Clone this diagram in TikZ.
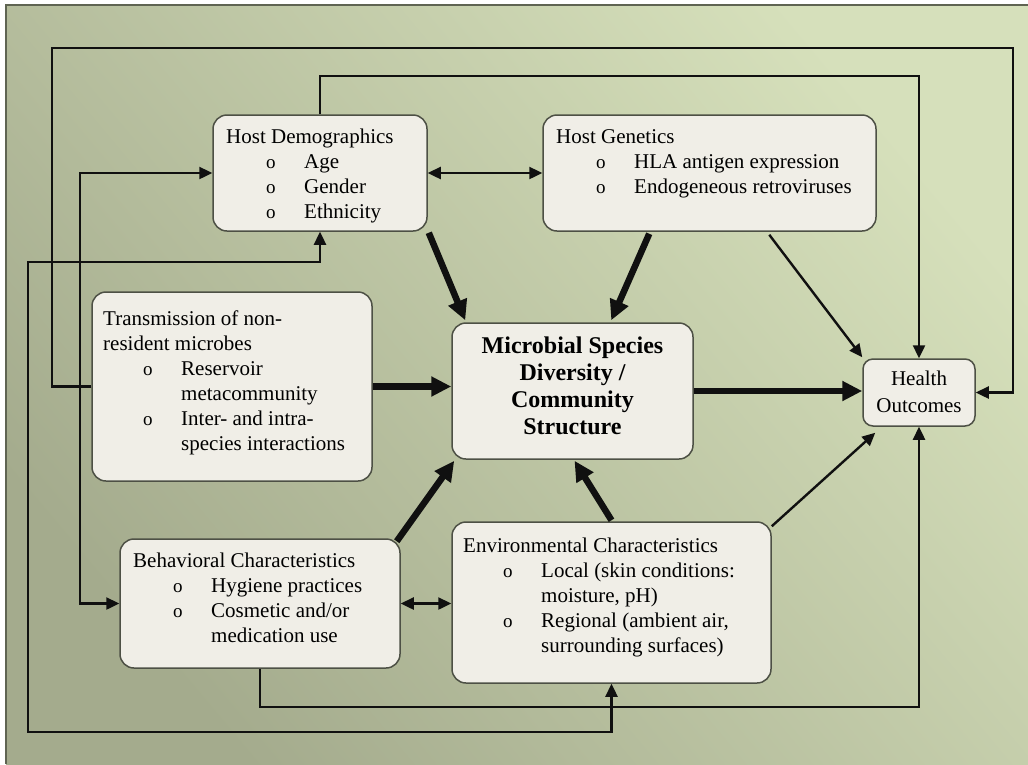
\documentclass[tikz,border=0pt]{standalone}
\usepackage{fontspec}
\setmainfont{Liberation Serif}
\usetikzlibrary{arrows.meta,calc}
\definecolor{boxfill}{HTML}{F0EEE7}
\definecolor{boxline}{HTML}{4D5045}
\definecolor{bgdark}{HTML}{A4AB8D}
\definecolor{bglight}{HTML}{D6E0BB}
\definecolor{framecol}{HTML}{5F6452}
\definecolor{linecol}{HTML}{101010}
\newcommand\itm[1]{\hspace*{40pt}\makebox[38pt][l]{\fontsize{19}{25}\selectfont o}#1}
\newcommand\cnt[1]{\hspace*{78pt}#1}
\begin{document}
\begin{tikzpicture}[x=1pt,y=-1pt,
  box/.style={draw=boxline, line width=1.5pt, fill=boxfill, rounded corners=14pt, inner sep=0pt},
  txt/.style={inner sep=0pt, anchor=base west, font=\fontsize{21}{25}\selectfont},
  ln/.style={draw=linecol, line width=2.4pt},
  ar/.style={ln, -{Triangle[length=13pt,width=12pt]}},
  dar/.style={ln, {Triangle[length=13pt,width=12pt]}-{Triangle[length=13pt,width=12pt]}},
  bigar/.style={draw=linecol, line width=6.5pt, -{Triangle[length=20pt,width=19pt]}}]

\useasboundingbox (0,0) rectangle (1028,764);
\fill[white] (0,0) rectangle (1028,764);
\shade[bottom color=bgdark, top color=bglight, shading angle=-50] (6,5) rectangle (1028,764);
\draw[framecol, line width=1.5pt] (6,764) -- (6,5) -- (1028,5);

% boxes
\node[box, minimum width=214pt, minimum height=116pt] (HD) at (320,173) {};
\node[box, minimum width=333pt, minimum height=116pt] (HG) at (709.5,173) {};
\node[box, minimum width=280pt, minimum height=189pt] (TR) at (232,386.5) {};
\node[box, minimum width=241pt, minimum height=136pt] (MC) at (572.5,391) {};
\node[box, minimum width=112pt, minimum height=67pt, rounded corners=10pt] (HO) at (919,392.5) {};
\node[box, minimum width=280pt, minimum height=129pt] (BC) at (260,603.5) {};
\node[box, minimum width=319pt, minimum height=161pt] (EC) at (611.5,602.5) {};

% texts
\node[txt] (HDt) at (226,143) {\parbox[t]{200pt}{Host Demographics\\\itm{Age}\\\itm{Gender}\\\itm{Ethnicity}}};
\node[txt] (HGt) at (556,143) {\parbox[t]{320pt}{Host Genetics\\\itm{HLA antigen expression}\\\itm{Endogeneous retroviruses}}};
\node[txt] (TRt) at (103,325) {\parbox[t]{270pt}{Transmission of non-\\resident microbes\\\itm{Reservoir}\\\cnt{metacommunity}\\\itm{Inter- and intra-}\\\cnt{species interactions}}};
\node[txt] (BCt) at (133,567) {\parbox[t]{270pt}{Behavioral Characteristics\\\itm{Hygiene practices}\\\itm{Cosmetic and/or}\\\cnt{medication use}}};
\node[txt] (ECt) at (463,552) {\parbox[t]{310pt}{Environmental Characteristics\\\itm{Local (skin conditions:}\\\cnt{moisture, pH)}\\\itm{Regional (ambient air,}\\\cnt{surrounding surfaces)}}};
\node[inner sep=0pt, anchor=base, font=\bfseries\fontsize{24}{27}\selectfont] (MCt) at (572.5,353) {\parbox[t]{236pt}{\centering Microbial Species\\Diversity /\\Community\\Structure}};
\node[inner sep=0pt, anchor=base, font=\fontsize{21}{27}\selectfont] (HOt) at (919,385.5) {\parbox[t]{108pt}{\centering Health\\Outcomes}};

% coordinates for orthogonal connectors
\coordinate (a1) at (52,48);
\coordinate (a2) at (1013,48);
\coordinate (b2) at (919,76);
\coordinate (c0) at (80,386.5);
\coordinate (d1) at (28,262);
\coordinate (d2) at (28,732);
\coordinate (e1) at (919,707);

% orthogonal connectors
\draw[ar] (TR.west) -| (a1) -- (a2) |- (HO.east);
\draw[ar] (HD.north) |- (b2) -- (HO.north);
\draw[ar] (c0) |- (HD.west);
\draw[ar] (c0) |- (BC.west);
\draw[dar] (HD.south) |- (d1) -- (d2) -| (EC.south);
\draw[ar] (BC.south) |- (e1) -- (HO.south);

% straight connectors
\draw[dar] (HD.east) -- (HG.west);
\draw[dar] (BC.east) -- (BC.east -| EC.west);
\draw[bigar] (TR.east) -- (TR.east -| MC.west);
\draw[bigar] (MC.east) -- (MC.east -| HO.west);
\draw[bigar] ($(HD.south east)+(1,1)$) -- ($(MC.north west)+(14,-2)$);
\draw[bigar] ($(HG.south west)+(107,2)$) -- ($(MC.north west)+(160,-2)$);
\draw[bigar] ($(BC.north east)+(-4,3)$) -- ($(MC.south west)+(3,1)$);
\draw[bigar] ($(EC.north)+(0,-1)$) -- ($(MC.south)+(2,1)$);
\draw[ar] ($(HG.south west)+(227,3)$) -- ($(HO.north west)+(0,-1)$);
\draw[ar] ($(EC.north east)+(0,5)$) -- ($(HO.south west)+(13,6)$);
\end{tikzpicture}
\end{document}
